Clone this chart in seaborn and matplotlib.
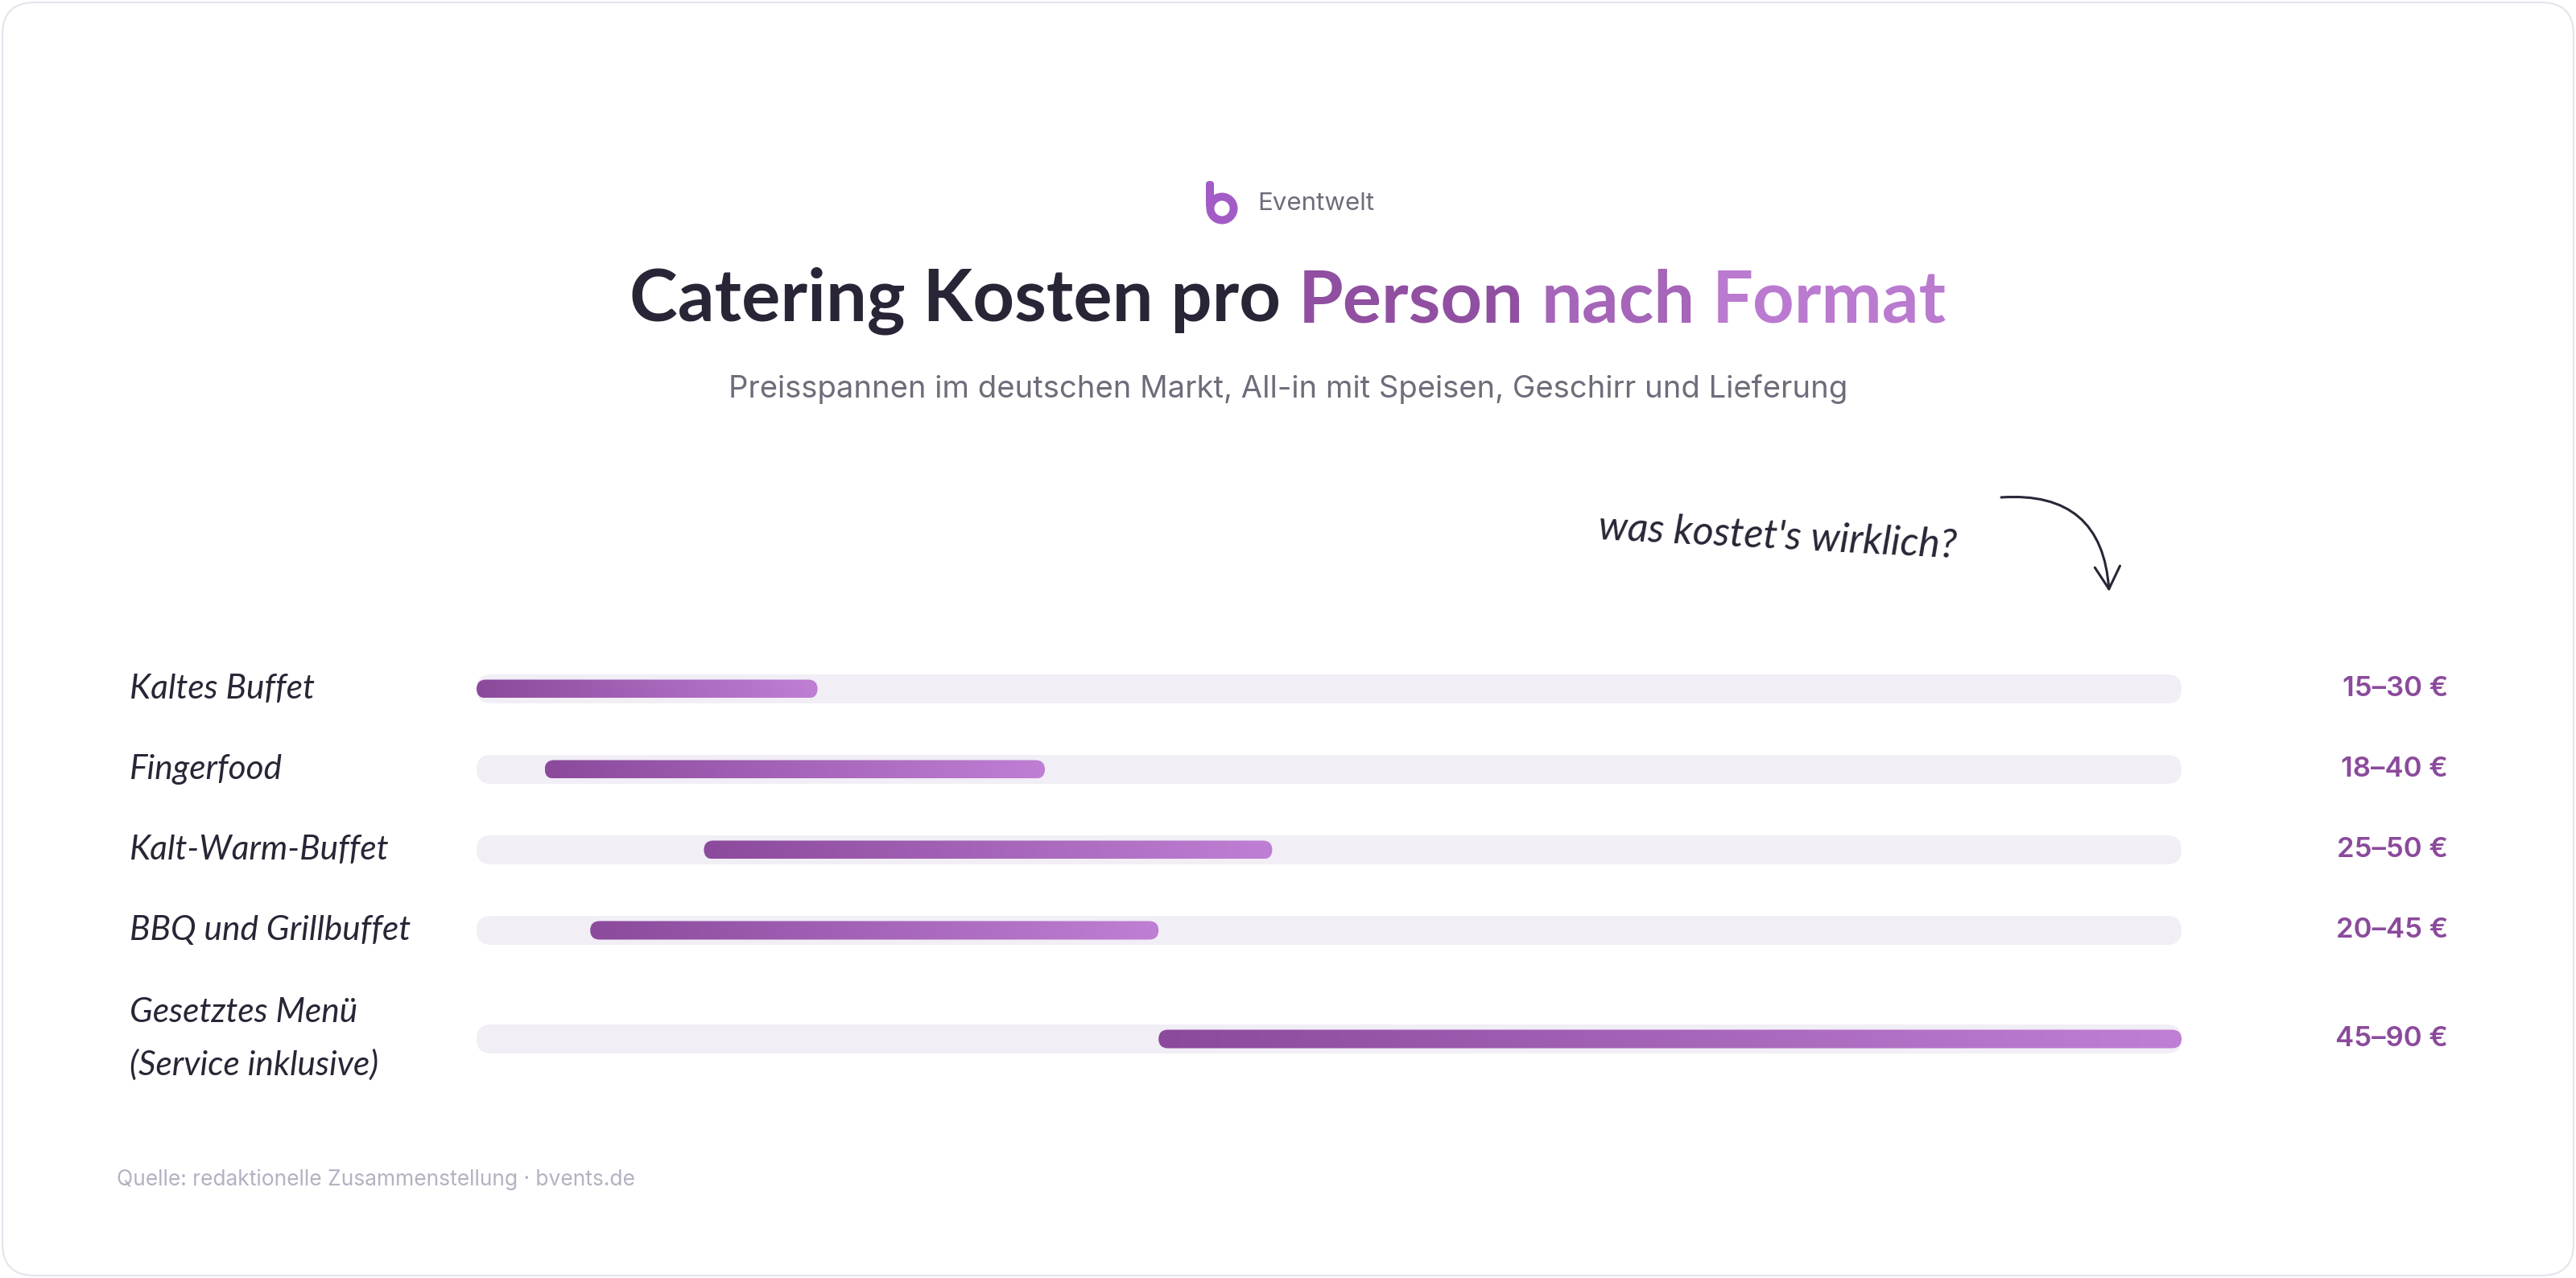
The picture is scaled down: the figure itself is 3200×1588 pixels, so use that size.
import numpy as np
import matplotlib
matplotlib.use("Agg")
import matplotlib.pyplot as plt
import seaborn as sns
from matplotlib.patches import FancyBboxPatch, FancyArrowPatch, Wedge
from matplotlib import transforms

# --- data ---
formats = ["Kaltes Buffet", "Fingerfood", "Kalt-Warm-Buffet", "BBQ und Grillbuffet",
           "Gesetztes Menü\n(Service inklusive)"]
price_low = [15, 18, 25, 20, 45]
price_high = [30, 40, 50, 45, 90]
scale_min, scale_max = 15, 90

title_dark = "Catering Kosten pro"
title_accent = ["Person", "nach", "Format"]
subtitle = "Preisspannen im deutschen Markt, All-in mit Speisen, Geschirr und Lieferung"
brand = "Eventwelt"
note = "was kostet's wirklich?"
source = "Quelle: redaktionelle Zusammenstellung · bvents.de"

# --- style ---
W, H, DPI = 3200, 1588, 100
sns.set_theme(style="white")
plt.rcParams["font.family"] = ["Lato", "DejaVu Sans"]

DARK = "#2a2536"
PURPLE = "#8b4a9c"
LIGHT = "#bf7fd4"
TRACK = "#f1eef6"
GREY = "#6f6c7a"
grad = sns.blend_palette([PURPLE, LIGHT], as_cmap=True)

fig = plt.figure(figsize=(W / DPI, H / DPI), dpi=DPI)
fig.patch.set_facecolor("white")

# pixel-space layer for the card, header and notes
deco = fig.add_axes([0, 0, 1, 1])
deco.set_xlim(0, W)
deco.set_ylim(0, H)
deco.set_axis_off()
deco.add_patch(FancyBboxPatch((3, 3), W - 6, H - 6, boxstyle="round,pad=0,rounding_size=40",
                              facecolor="white", edgecolor="#e4e3ec", lw=1.5))

# row positions (two-line labels get a bit more room)
row_y = []
pos = 0.0
for i, lab in enumerate(formats):
    if i > 0:
        pos += 1 + 0.35 * lab.count("\n")
    row_y.append(pos)

# chart axes: x in euro, y in rows (100 px per row)
x0_px, x1_px = 592, 2710
top_px = 782
y_lo, y_hi = -0.5, row_y[-1] + 0.5
ax_h = (y_hi - y_lo) * 100
ax = fig.add_axes([x0_px / W, (top_px - ax_h) / H, (x1_px - x0_px) / W, ax_h / H])
ax.set_facecolor("none")
ax.set_xlim(scale_min, scale_max)
ax.set_ylim(y_hi, y_lo)
ax.set_axis_off()

px_x = (x1_px - x0_px) / (scale_max - scale_min)
px_y = 100.0
m = px_x / px_y
track_h, bar_h = 0.36, 0.23

for y, lo, hi in zip(row_y, price_low, price_high):
    ax.add_patch(FancyBboxPatch((scale_min, y - track_h / 2), scale_max - scale_min, track_h,
                                boxstyle=f"round,pad=0,rounding_size={track_h / m / 2}",
                                mutation_aspect=m, facecolor=TRACK, edgecolor="none", zorder=1))
    clip = FancyBboxPatch((lo, y - bar_h / 2), hi - lo, bar_h,
                          boxstyle=f"round,pad=0,rounding_size={bar_h / m / 2}",
                          mutation_aspect=m, facecolor="none", edgecolor="none")
    ax.add_patch(clip)
    im = ax.imshow(np.linspace(0, 1, 256)[None, :], extent=[lo, hi, y + bar_h / 2, y - bar_h / 2],
                   cmap=grad, aspect="auto", interpolation="bilinear", zorder=2)
    im.set_clip_path(clip)

ax.set_xlim(scale_min, scale_max)
ax.set_ylim(y_hi, y_lo)

mixed = transforms.blended_transform_factory(fig.transFigure, ax.transData)
for y, lab, lo, hi in zip(row_y, formats, price_low, price_high):
    ax.text(161 / W, y, lab, transform=mixed, ha="left", va="center", fontsize=30.5,
            style="italic", color=DARK, linespacing=1.8)
    ax.text(3041 / W, y, f"{lo}–{hi} €", transform=mixed, ha="right", va="center",
            fontsize=25, color=PURPLE, fontweight="semibold", family=["Inter", "DejaVu Sans"])

# --- header ---
logo_c = "#a35cc6"
deco.add_patch(Wedge((1518, 1329), 19.5, 0, 360, width=10, facecolor=logo_c, edgecolor="none"))
deco.add_patch(FancyBboxPatch((1498, 1329), 10, 34, boxstyle="round,pad=0,rounding_size=4",
                              facecolor=logo_c, edgecolor="none"))
deco.text(1562, 1335, brand, ha="left", va="center", fontsize=22.5, color=GREY,
          family=["Inter", "DejaVu Sans"])

fs_title = 65
t0 = deco.text(0, 1190, title_dark, fontsize=fs_title, fontweight="bold", color=DARK,
               ha="left", va="baseline")
pieces = [t0]
for k, word in enumerate(title_accent):
    col = grad(0.1 + 0.8 * k / (len(title_accent) - 1))
    prev = deco.annotate(word, xy=(1, 0), xycoords=pieces[-1], xytext=(fs_title * 0.24, 0),
                         textcoords="offset points", fontsize=fs_title, fontweight="bold",
                         color=col, ha="left", va="bottom")
    pieces.append(prev)
fig.canvas.draw()
r = fig.canvas.get_renderer()
tw = pieces[-1].get_window_extent(r).x1 - t0.get_window_extent(r).x0
t0.set_x(W / 2 - tw / 2)

deco.text(W / 2, 1104, subtitle, ha="center", va="center", fontsize=27.5, color=GREY,
          family=["Inter", "DejaVu Sans"])

# --- hand note ---
deco.text(1986, 932, note, ha="left", va="center", rotation=-3, rotation_mode="anchor",
          fontsize=36, style="italic", color=DARK)
deco.add_patch(FancyArrowPatch((2486, 970), (2620, 853), connectionstyle="arc3,rad=-0.5",
                               arrowstyle="->,head_length=0.8,head_width=0.45",
                               mutation_scale=25, lw=2.2, color=DARK, shrinkA=0, shrinkB=0))

deco.text(145, 122, source, ha="left", va="center", fontsize=19, color="#b4b2c2",
          family=["Inter", "DejaVu Sans"])

fig.savefig("out.png", dpi=DPI, facecolor="white")
